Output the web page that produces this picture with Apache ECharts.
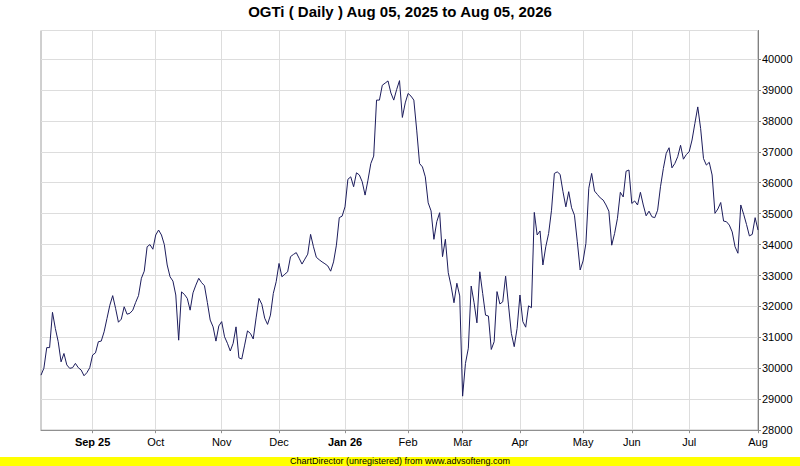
<!DOCTYPE html>
<html>
<head>
<meta charset="utf-8">
<title>OGTi Daily</title>
<script src="https://cdn.jsdelivr.net/npm/echarts@6/dist/echarts.min.js"></script>
<style>
  html, body { margin: 0; padding: 0; background: #ffffff; }
  #chart { width: 800px; height: 466px; }
</style>
</head>
<body>
<div id="chart"></div>
<script>
// daily closing values, Aug 05 2025 -> Aug 05 2026
const closeValues = [
  29780, 30000, 30670, 30670, 31810, 31290, 30860, 30210, 30480, 30110,
  30000, 30020, 30160, 30020, 29945, 29760, 29860, 30020, 30430, 30500,
  30860, 30880, 31180, 31610, 32040, 32350, 31940, 31490, 31590, 31990,
  31750, 31780, 31880, 32130, 32350, 32910, 33140, 33930, 34000, 33850,
  34310, 34470, 34310, 34000, 33340, 32960, 32820, 32370, 30910, 32470,
  32390, 32260, 31880, 32440, 32690, 32910, 32770, 32670, 32130, 31560,
  31340, 30880, 31370, 31510, 31020, 30810, 30560, 30810, 31340, 30340,
  30300, 30750, 31210, 31130, 30950, 31630, 32260, 32070, 31620, 31420,
  31720, 32420, 32800, 33390, 32960, 33040, 33120, 33610, 33680, 33740,
  33560, 33370, 33530, 33690, 34330, 33930, 33590, 33510, 33440, 33380,
  33310, 33140, 33440, 33980, 34870, 34920, 35220, 36110, 36190, 35870,
  36320, 36250, 36030, 35600, 36080, 36620, 36860, 38670, 38670, 39150,
  39220, 39290, 38900, 38670, 39010, 39300, 38110, 38580, 38885, 38800,
  38670, 37700, 36620, 36510, 36190, 35350, 35090, 34170, 34740, 35030,
  33610, 34170, 33090, 32660, 32120, 32750, 32340, 29100, 30160, 30650,
  32660, 32120, 31470, 33120, 32420, 31720, 31690, 30610, 30860, 32480,
  32080, 32150, 32980, 32050, 31130, 30700, 31290, 32370, 31510, 31330,
  32020, 31960, 35040, 34310, 34440, 33340, 33930, 34360, 35110, 36300,
  36350, 36270, 35710, 35220, 35710, 35190, 34950, 34090, 33180, 33470,
  34040, 35820, 36300, 35730, 35620, 35510, 35440, 35280, 35080, 33980,
  34360, 34850, 35690, 35540, 36370, 36410, 35330, 35410, 35280, 35690,
  35280, 34930, 35080, 34900, 34870, 35110, 35870, 36460, 36950, 37130,
  36480, 36620, 36840, 37210, 36760, 36910, 37000, 37380, 37920, 38450,
  37750, 36780, 36570, 36660, 36250, 35010, 35150, 35360, 34760, 34740,
  34630, 34410, 33930, 33720, 35280, 34980, 34650, 34280, 34330, 34870,
  34470
];

// month ticks: index of the first trading day of each month
const tickIndex = [18, 40, 63, 83, 106, 128, 147, 167, 189, 206, 226, 250];
const tickLabels = ['Sep 25', 'Oct', 'Nov', 'Dec', 'Jan 26', 'Feb', 'Mar', 'Apr', 'May', 'Jun', 'Jul', 'Aug'];
const yearLabels = ['Sep 25', 'Jan 26'];

const yMin = 28000;
const yMax = 40920;
const yStep = 1000;

const categories = closeValues.map((v, i) => String(i));
const isTick = (i) => tickIndex.indexOf(i) !== -1;

const chart = echarts.init(document.getElementById('chart'), null, { renderer: 'svg' });

chart.setOption({
  animation: false,
  backgroundColor: '#ffffff',
  title: {
    text: 'OGTi ( Daily ) Aug 05, 2025 to Aug 05, 2026',
    left: 'center',
    top: -1,
    textStyle: { fontFamily: 'Liberation Sans, Arial', fontSize: 15, fontWeight: 'bold', color: '#000000' }
  },
  grid: {
    left: 41,
    right: 42,
    top: 30.5,
    bottom: 35.8,
    show: true,
    borderColor: '#a0a0a0',
    borderWidth: 1
  },
  xAxis: {
    type: 'category',
    data: categories,
    boundaryGap: false,
    axisLine: { lineStyle: { color: '#909090' } },
    axisTick: { show: true, interval: isTick, length: 3, lineStyle: { color: '#909090' } },
    splitLine: { show: true, interval: isTick, lineStyle: { color: '#dddddd', width: 1 } },
    axisLabel: {
      interval: isTick,
      margin: 6,
      fontFamily: 'Liberation Sans, Arial',
      fontSize: 11,
      color: '#000000',
      formatter: (value) => {
        const k = tickIndex.indexOf(Number(value));
        if (k === -1) return '';
        const lab = tickLabels[k];
        return yearLabels.indexOf(lab) !== -1 ? '{b|' + lab + '}' : lab;
      },
      rich: {
        b: { fontFamily: 'Liberation Sans, Arial', fontSize: 11, fontWeight: 'bold', color: '#000000' }
      }
    }
  },
  yAxis: {
    type: 'value',
    position: 'right',
    min: yMin,
    max: yMax,
    interval: yStep,
    axisLine: { show: true, lineStyle: { color: '#808080' } },
    axisTick: { show: true, length: 3, lineStyle: { color: '#808080' } },
    splitLine: { show: true, lineStyle: { color: '#dddddd', width: 1 } },
    axisLabel: {
      showMaxLabel: false,
      margin: 4,
      fontFamily: 'Liberation Sans, Arial',
      fontSize: 11,
      color: '#000000',
      formatter: (value) => String(value)
    }
  },
  series: [{
    type: 'line',
    data: closeValues,
    showSymbol: false,
    symbol: 'none',
    lineStyle: { color: '#1c1c5c', width: 1 },
    silent: true
  }],
  graphic: [
    {
      type: 'rect',
      left: 0,
      top: 457,
      shape: { width: 800, height: 9 },
      style: { fill: '#ffff00' },
      silent: true
    },
    {
      type: 'text',
      left: 'center',
      top: 456.5,
      style: {
        text: 'ChartDirector (unregistered) from www.advsofteng.com',
        fontFamily: 'Liberation Sans, Arial',
        fontSize: 9,
        fill: '#000000'
      },
      silent: true
    }
  ]
});
</script>
</body>
</html>
